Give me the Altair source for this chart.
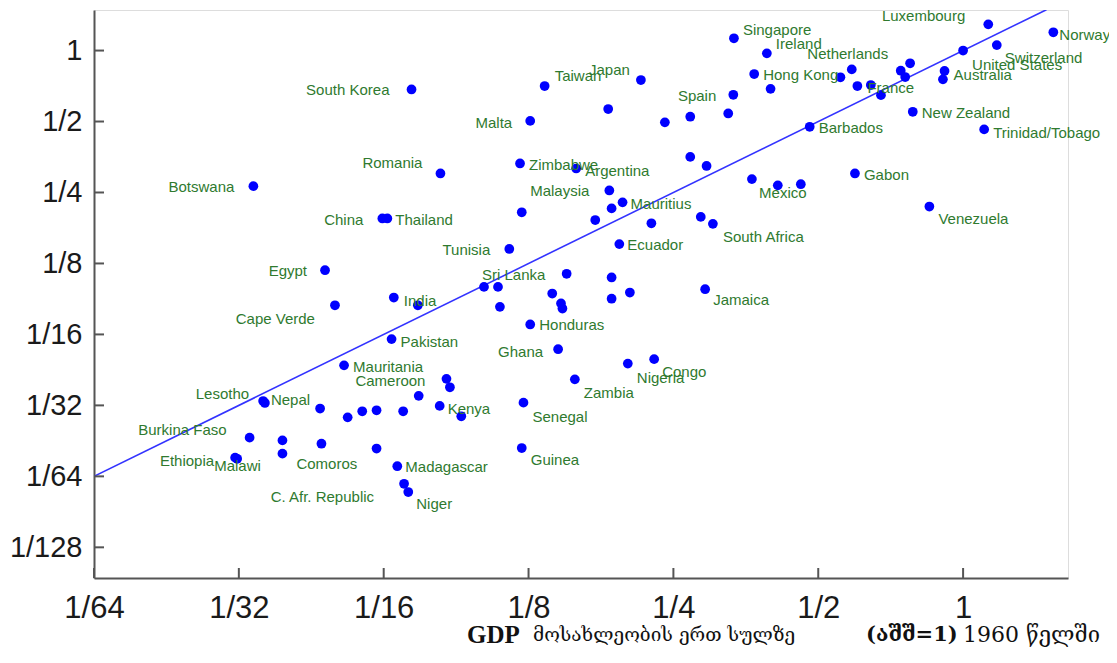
import altair as alt
import pandas as pd

# ---- data (GDP per capita relative to the US: 1960 and 2000) ----
LABELED = [
    ("Singapore", 0.334, 1.127), ("Ireland", 0.391, 0.973), ("Hong Kong", 0.368, 0.795),
    ("Spain", 0.333, 0.649), ("Japan", 0.214, 0.750), ("Taiwan", 0.135, 0.707),
    ("Malta", 0.126, 0.503), ("Barbados", 0.480, 0.475), ("Zimbabwe", 0.120, 0.332),
    ("Argentina", 0.157, 0.316), ("Mexico", 0.412, 0.268), ("Gabon", 0.596, 0.301),
    ("Malaysia", 0.184, 0.255), ("Mauritius", 0.196, 0.227), ("South Africa", 0.302, 0.184),
    ("Ecuador", 0.193, 0.151), ("Tunisia", 0.114, 0.144), ("Sri Lanka", 0.101, 0.0994),
    ("Jamaica", 0.291, 0.0972), ("Honduras", 0.126, 0.0689), ("Ghana", 0.144, 0.0541),
    ("Nigeria", 0.201, 0.0470), ("Congo", 0.228, 0.0491), ("Zambia", 0.156, 0.0403),
    ("Senegal", 0.122, 0.0321), ("Guinea", 0.121, 0.0206), ("Cameroon", 0.0844, 0.0405),
    ("Kenya", 0.0817, 0.0311), ("Madagascar", 0.0667, 0.01725),
    ("C. Afr. Republic", 0.0689, 0.01453), ("Niger", 0.0703, 0.01341),
    ("Mauritania", 0.0517, 0.0462), ("Nepal", 0.0354, 0.0320), ("Lesotho", 0.0351, 0.0326),
    ("Burkina Faso", 0.0329, 0.0228), ("Comoros", 0.0385, 0.0195),
    ("Ethiopia", 0.0307, 0.01876), ("Malawi", 0.0310, 0.01855), ("Romania", 0.0820, 0.301),
    ("Botswana", 0.0335, 0.266), ("China", 0.0621, 0.194), ("Thailand", 0.0636, 0.194),
    ("Egypt", 0.0472, 0.117), ("Cape Verde", 0.0495, 0.0831), ("India", 0.0656, 0.0896),
    ("Pakistan", 0.0649, 0.0597), ("South Korea", 0.0714, 0.684),
    ("Luxembourg", 1.128, 1.292), ("Norway", 1.540, 1.195), ("Switzerland", 1.175, 1.055),
    ("United States", 1.0, 1.0), ("Australia", 0.915, 0.819), ("Netherlands", 0.587, 0.832),
    ("France", 0.603, 0.707), ("New Zealand", 0.786, 0.550),
    ("Trinidad/Tobago", 1.106, 0.463), ("Venezuela", 0.851, 0.218),
]
UNLABELED_1960 = [0.398, 0.325, 0.271, 0.240, 0.183, 0.271, 0.293, 0.364, 0.460, 0.186,
                  0.121, 0.172, 0.225, 0.285, 0.150, 0.186, 0.203, 0.186, 0.108, 0.109,
                  0.140, 0.146, 0.147, 0.0858, 0.0739, 0.0906, 0.0686, 0.0461, 0.0526,
                  0.0564, 0.0604, 0.0385, 0.0464, 0.0604, 0.0736, 0.908, 0.556, 0.643,
                  0.675, 0.742, 0.776, 0.758]
UNLABELED_2000 = [0.688, 0.541, 0.524, 0.496, 0.565, 0.354, 0.324, 0.285, 0.271, 0.214,
                  0.206, 0.191, 0.185, 0.197, 0.113, 0.109, 0.0941, 0.0886, 0.0994, 0.0818,
                  0.0932, 0.0846, 0.0805, 0.0373, 0.0343, 0.0281, 0.0295, 0.0303, 0.0278,
                  0.0295, 0.0298, 0.0222, 0.0215, 0.0205, 0.0831, 0.755, 0.770, 0.714,
                  0.647, 0.821, 0.883, 0.772]

X_TICKS = [1/64, 1/32, 1/16, 1/8, 1/4, 1/2, 1]
Y_TICKS = [1/128, 1/64, 1/32, 1/16, 1/8, 1/4, 1/2, 1]
X_DOMAIN = [1/64, 1.652]
Y_DOMAIN = [0.00579, 1.486]
LINE_X = [1/64, 1.49]          # 45-degree reference line (2000 = 1960)

TITLE_GDP = "GDP"
TITLE_GE = "მოსახლეობის ერთ სულზე"
TITLE_US = "(აშშ=1)"
TITLE_YEAR = "1960 წელში"

# label placement (style): dx, dy, align
LABEL_POS = {
    "Singapore": (9, -8, "left"), "Ireland": (9, -9, "left"), "Hong Kong": (9, 1, "left"),
    "Spain": (-17, 1, "right"), "Japan": (-11, -10, "right"), "Taiwan": (10, -10, "left"),
    "Malta": (-18, 2, "right"), "Barbados": (9, 1, "left"), "Zimbabwe": (9, 2, "left"),
    "Argentina": (9, 2, "left"), "Mexico": (5, 8, "center"), "Gabon": (9, 2, "left"),
    "Malaysia": (-20, 1, "right"), "Mauritius": (8, 2, "left"),
    "South Africa": (10, 13, "left"), "Ecuador": (8, 1, "left"), "Tunisia": (-19, 1, "right"),
    "Sri Lanka": (-2, -12, "left"), "Jamaica": (8, 11, "left"), "Honduras": (9, 1, "left"),
    "Ghana": (-15, 3, "right"), "Nigeria": (9, 14, "left"), "Congo": (8, 13, "left"),
    "Zambia": (9, 14, "left"), "Senegal": (9, 14, "left"), "Guinea": (9, 12, "left"),
    "Cameroon": (-21, 2, "right"), "Kenya": (8, 3, "left"), "Madagascar": (8, 1, "left"),
    "C. Afr. Republic": (-30, 13, "right"), "Niger": (8, 12, "left"),
    "Mauritania": (9, 2, "left"), "Nepal": (6, -3, "left"), "Lesotho": (-14, -7, "right"),
    "Burkina Faso": (-23, -8, "right"), "Comoros": (14, 10, "left"),
    "Ethiopia": (-21, 3, "right"), "Malawi": (-23, 7, "left"), "Romania": (-18, -10, "right"),
    "Botswana": (-19, 1, "right"), "China": (-19, 2, "right"), "Thailand": (8, 2, "left"),
    "Egypt": (-18, 1, "right"), "Cape Verde": (-20, 14, "right"), "India": (10, 3, "left"),
    "Pakistan": (9, 3, "left"), "South Korea": (-22, 1, "right"),
    "Luxembourg": (-23, -8, "right"), "Norway": (6, 3, "left"), "Switzerland": (8, 13, "left"),
    "United States": (9, 14, "left"), "Australia": (9, 4, "left"),
    "Netherlands": (-4, -15, "center"), "France": (10, 2, "left"),
    "New Zealand": (9, 1, "left"), "Trinidad/Tobago": (9, 4, "left"), "Venezuela": (9, 12, "left"),
}

W, H = 974, 568
BLUE = "#0000ff"
GREEN = "#2f7a2f"
AXIS_COLOR = "#555555"

names = [r[0] for r in LABELED] + [""] * len(UNLABELED_1960)
g1960 = [r[1] for r in LABELED] + UNLABELED_1960
g2000 = [r[2] for r in LABELED] + UNLABELED_2000
df = pd.DataFrame({"country": names, "g1960": g1960, "g2000": g2000})

xs = alt.Scale(type="log", base=2, domain=X_DOMAIN, nice=False, zero=False)
ys = alt.Scale(type="log", base=2, domain=Y_DOMAIN, nice=False, zero=False)

label_expr = "datum.value >= 1 ? '1' : '1/' + round(1/datum.value)"

base = alt.Chart(df)

points = base.mark_circle(size=95, color=BLUE, opacity=1).encode(
    x=alt.X("g1960:Q", scale=xs,
            axis=alt.Axis(values=X_TICKS, labelExpr=label_expr, title=None, grid=False,
                          ticks=False, domainColor=AXIS_COLOR, domainWidth=2,
                          labelFont="Liberation Sans", labelFontSize=31,
                          labelColor="#1a1a1a", labelPadding=15, labelFlush=False)),
    y=alt.Y("g2000:Q", scale=ys,
            axis=alt.Axis(values=Y_TICKS, labelExpr=label_expr, title=None, grid=False,
                          ticks=False, domainColor=AXIS_COLOR, domainWidth=2,
                          labelFont="Liberation Sans", labelFontSize=29,
                          labelColor="#1a1a1a", labelPadding=12, labelFlush=False)),
)

line_df = pd.DataFrame({"v": LINE_X})
line = alt.Chart(line_df).mark_line(color="#3333ff", strokeWidth=1.6, clip=True).encode(
    x=alt.X("v:Q", scale=xs), y=alt.Y("v:Q", scale=ys))

xt = alt.Chart(pd.DataFrame({"t": X_TICKS})).mark_rule(color=AXIS_COLOR, strokeWidth=2).encode(
    x=alt.X("t:Q", scale=xs), y=alt.value(H), y2=alt.value(H - 10))
yt = alt.Chart(pd.DataFrame({"t": Y_TICKS})).mark_rule(color=AXIS_COLOR, strokeWidth=2).encode(
    y=alt.Y("t:Q", scale=ys), x=alt.value(0), x2=alt.value(10))

layers = [line, xt, yt, points]
for name, (dx, dy, align) in LABEL_POS.items():
    layers.append(
        base.transform_filter(alt.datum.country == name).mark_text(
            align=align, baseline="middle", dx=dx, dy=dy, font="Liberation Sans",
            fontSize=15, color=GREEN).encode(
            x=alt.X("g1960:Q", scale=xs), y=alt.Y("g2000:Q", scale=ys), text="country:N"))

def title_text(txt, x, font, size, weight="normal"):
    return alt.Chart(pd.DataFrame({"s": [txt]})).mark_text(
        align="left", baseline="middle", font=font, fontSize=size, fontWeight=weight,
        color="#111111").encode(x=alt.value(x), y=alt.value(H + 57), text="s:N")

layers += [
    title_text(TITLE_GDP, 373, "Liberation Serif", 25, "bold"),
    title_text(TITLE_GE, 439, "DejaVu Serif", 19),
    title_text(TITLE_US, 772, "DejaVu Serif", 21, "bold"),
    title_text(TITLE_YEAR, 869, "DejaVu Serif", 22),
]

chart = alt.layer(*layers).properties(
    width=W, height=H,
    autosize=alt.AutoSizeParams(type="none"),
    padding={"left": 86, "top": 2, "right": 41, "bottom": 72},
).configure_view(stroke=None).configure(background="white")

chart.save("out.html", embed_options={"renderer": "svg", "actions": False})
